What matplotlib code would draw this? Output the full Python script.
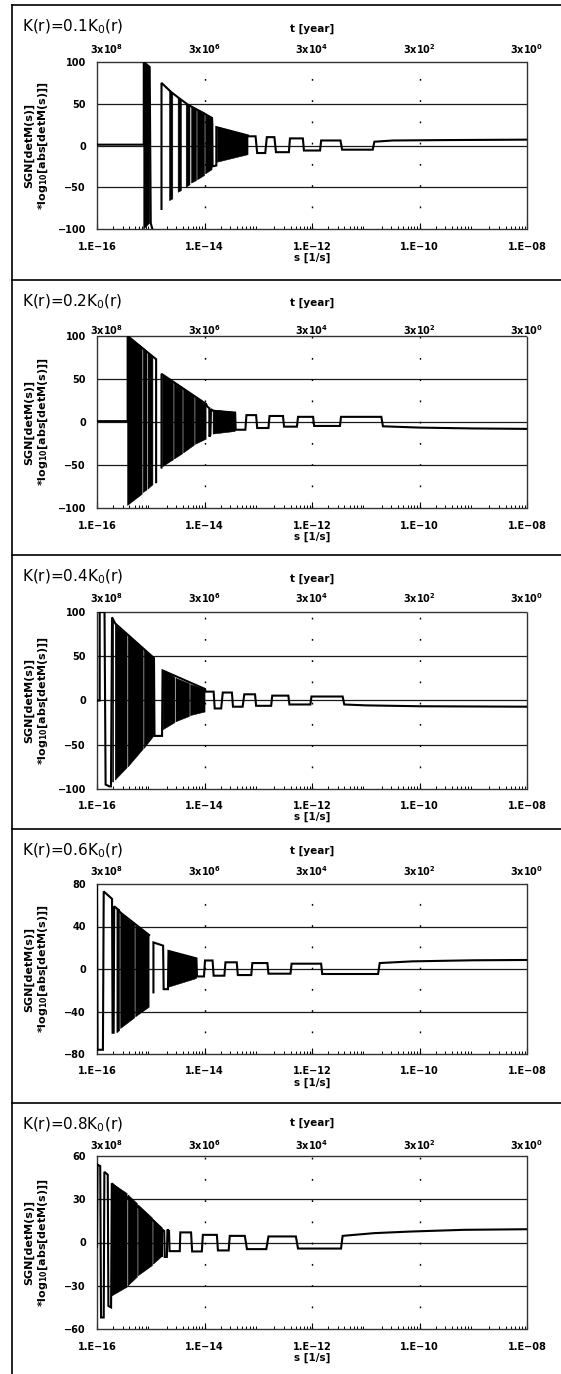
import numpy as np
import matplotlib.pyplot as plt
from matplotlib.lines import Line2D
from matplotlib.ticker import LogLocator, NullFormatter

# ---- chart values (x in log10(s [1/s]), y = SGN[detM]*log10|detM|) ----
TITLES = ['K(r)=0.1K$_0$(r)', 'K(r)=0.2K$_0$(r)', 'K(r)=0.4K$_0$(r)',
          'K(r)=0.6K$_0$(r)', 'K(r)=0.8K$_0$(r)']
Y_LIMITS = [100, 100, 100, 80, 60]
Y_STEPS = [50, 50, 50, 40, 30]
S_TICKS = [-16, -14, -12, -10, -8]
S_LABELS = ['1.E\u221216', '1.E\u221214', '1.E\u221212', '1.E\u221210', '1.E\u221208']
T_LABELS = ['3x10$^8$', '3x10$^6$', '3x10$^4$', '3x10$^2$', '3x10$^0$']
NAN = float('nan')

# panel 1: K=0.1K0
P1_X = [-16.0, -15.13, -15.13, -15.02, -15.00, -14.97, NAN,
        -14.80, -14.80, -14.62, -14.46, -14.31, -14.20, -14.08, -13.86,
        -13.855, -13.85, -13.78, -13.78, -13.19,
        -13.19, -13.05, -13.02, -12.87, -12.84, -12.70, -12.67, -12.43,
        -12.41, -12.17, -12.15, -11.85, -11.83, -11.47, -11.44, -10.87,
        -10.84, -10.50, -9.50, -8.0]
P1_Y = [1, 1, 100, 94, -93, -100, NAN,
        -76, 75, 64, 56, 49, 45, 41, 33,
        27, -25, -24, 22, 12,
        11, 11, -9, -9, 10, 10, -8, -8,
        8.5, 8.5, -6, -6, 6, 6, -5, -5,
        4.5, 6, 6.5, 7]
P1_BLOCKS = [(-15.13, -15.02, 100, 94, -100, -93),
             (-14.65, -14.59, 65, 63, -66, -64),
             (-14.49, -14.43, 57, 55, -56, -54),
             (-14.34, -14.27, 50, 48, -50, -47),
             (-14.24, -14.15, 47, 44, -45, -42),
             (-14.13, -14.00, 43, 39, -41, -36),
             (-13.98, -13.86, 38, 33, -34, -29),
             (-13.76, -13.19, 22, 12, -20, -11)]

# panel 2: K=0.2K0
P2_X = [-16.0, -15.43, -15.43, -14.96, -14.92, -14.90, -14.90, NAN,
        -14.80, -14.80, -13.97, -13.95, -13.91, -13.91, -13.89, -13.88,
        -13.84, -13.43, -13.42, -13.24, -13.22, -13.04, -13.02, -12.81,
        -12.79, -12.54, -12.52, -12.28, -12.26, -11.98, -11.96, -11.48,
        -11.46, -10.71, -10.68, -10.0, -9.0, -8.0]
P2_Y = [1, 1, 100, 76, 74, 73, -70, NAN,
        -53, 56, 21, 18, 16, -17, -15, 15,
        13, 11, -9, -9, 8, 8, -7, -7,
        7, 7, -5.4, -5.4, 6, 6, -4.6, -4.6,
        6, 6, -5, -6.5, -7.5, -8]
P2_BLOCKS = [(-15.43, -15.16, 100, 87, -97, -84),
             (-15.14, -15.07, 86, 82, -82, -79),
             (-15.05, -14.96, 81, 76, -78, -73),
             (-14.78, -14.58, 55, 47, -52, -44),
             (-14.56, -14.41, 46, 40, -43, -37),
             (-14.39, -14.19, 39, 30, -36, -27),
             (-14.17, -13.97, 29, 21, -26, -20),
             (-13.84, -13.43, 14, 11, -14, -11)]

# panel 3: K=0.4K0
P3_X = [-16.0, -15.95, -15.95, -15.86, -15.84, -15.77, -15.74, -15.72,
        -15.66, -14.94, -14.93, -14.79, -14.78, -13.99,
        -13.98, -13.83, -13.81, -13.69, -13.66, -13.49, -13.47, -13.29,
        -13.26, -13.06, -13.04, -12.76, -12.74, -12.44, -12.42, -12.03,
        -12.01, -11.43, -11.40, -11.0, -10.0, -8.0]
P3_Y = [0, 0, 100, 100, -95, -97, -97, 94,
        87, 48, -40, -40, 34, 13,
        10, 10, -9, -9, 9, 9, -7, -7,
        7, 7, -6, -6, 5.5, 5.5, -4.5, -4.5,
        4.5, 4.5, -4.5, -5.5, -6.5, -7]
P3_BLOCKS = [(-15.71, -15.69, 90, 89, -92, -92),
             (-15.66, -15.44, 86, 74, -90, -76),
             (-15.42, -15.14, 73, 58, -75, -55),
             (-15.12, -14.94, 57, 48, -54, -40),
             (-14.77, -14.55, 34, 26, -33, -25),
             (-14.53, -14.28, 25, 19, -24, -18),
             (-14.26, -13.99, 18, 13, -17, -13)]

# panel 4: K=0.6K0
P4_X = [-16.0, -15.99, -15.89, -15.875, -15.72, -15.71, -15.69, -15.68,
        -15.63, -15.56, -15.03, NAN,
        -14.95, -14.95, -14.77, -14.76, -14.68, -14.67, -14.15,
        -14.14, -14.01, -13.99, -13.85, -13.83, -13.63, -13.61, -13.40,
        -13.38, -13.13, -13.11, -12.83, -12.81, -12.40, -12.38, -11.83,
        -11.81, -10.77, -10.74, -10.13, -9.0, -8.0]
P4_Y = [78, -76, -76, 73, 66, -60, -60, 59,
        57, 53, 32, NAN,
        -22, 25, 22, -19, -19, 17, 10,
        -7, -7, 8, 8, -6.3, -6.3, 6.3, 6.3,
        -5.7, -5.7, 5.6, 5.6, -4.4, -4.4, 5, 5,
        -4.7, -4.7, 5.6, 7.2, 8.2, 8.5]
P4_BLOCKS = [(-15.63, -15.58, 57, 56, -60, -58),
             (-15.56, -15.30, 53, 43, -56, -46),
             (-15.28, -15.03, 42, 32, -45, -36),
             (-14.66, -14.15, 17, 10, -17, -9)]

# panel 5: K=0.8K0
P5_X = [-16.0, -15.99, -15.94, -15.925, -15.875, -15.863, -15.80, -15.788,
        -15.738, -15.725, -14.80, -14.80, -14.79, -14.75, -14.74, -14.70,
        -14.69, -14.66, -14.65, -14.46, -14.45, -14.25, -14.23, -14.05,
        -14.03, -13.77, -13.75, -13.55, -13.53, -13.25, -13.21, -12.85,
        -12.81, -12.30, -12.26, -11.46, -11.43, -10.84, -10.17, -9.17, -8.0]
P5_Y = [-3, 54, 53, -52, -52, 49, 47, -44,
        -45, 41, 10, -10, 9, 8, -10, -10,
        9, 8, -6, -6, 7, 7, -6.2, -6.2,
        5.3, 5.3, -5.5, -5.5, 4.6, 4.6, -4.6, -4.6,
        4.2, 4.2, -4.2, -4.2, 4.6, 6.5, 7.6, 8.8, 9.2]
P5_BLOCKS = [(-15.72, -15.44, 41, 34, -37, -31),
             (-15.42, -15.25, 33, 27, -30, -24),
             (-15.23, -14.97, 26, 17, -23, -16),
             (-14.95, -14.80, 16, 10, -15, -10)]

LINES_X = [P1_X, P2_X, P3_X, P4_X, P5_X]
LINES_Y = [P1_Y, P2_Y, P3_Y, P4_Y, P5_Y]
BLOCKS = [P1_BLOCKS, P2_BLOCKS, P3_BLOCKS, P4_BLOCKS, P5_BLOCKS]

# ---- layout (pixels of the 561x1374 picture) ----
W, H = 561, 1374
SEPS = [5, 280, 555, 829, 1103]
AX_TOP = [62, 336, 612, 884, 1156]
AX_BOT = [229, 508, 789, 1054, 1329]
AX_L, AX_R = 97, 527
TOP_LAB_OFF = [9, 4, 10, 9, 8]     # points above the frame
XLAB_OFF = [-21, -21, -20, -21, -21]
SMALL = dict(fontsize=7, fontweight='bold')

plt.rcParams['font.family'] = ['DejaVu Sans']
plt.rcParams['mathtext.fontset'] = 'dejavusans'
plt.rcParams['mathtext.default'] = 'regular'

fig = plt.figure(figsize=(W / 100, H / 100), dpi=100)

for i in range(5):
    ax = fig.add_axes([AX_L / W, 1 - AX_BOT[i] / H,
                       (AX_R - AX_L) / W, (AX_BOT[i] - AX_TOP[i]) / H])
    ax.set_xscale('log')
    lim, step = Y_LIMITS[i], Y_STEPS[i]
    ax.set_xlim(1e-16, 1e-8)
    ax.set_ylim(-lim, lim)

    # grid: solid horizontal, sparse dotted vertical
    for yv in range(-lim + step, lim, step):
        ax.axhline(yv, color='0.1', lw=0.9, zorder=1)
    for xv in S_TICKS[1:-1]:
        ax.axvline(10.0 ** xv, color='k', lw=1.0, ls=(0, (1.3, 14)), zorder=1)

    # dense oscillation blocks
    for x0, x1, t0, t1, b0, b1 in BLOCKS[i]:
        ax.fill([10 ** x0, 10 ** x1, 10 ** x1, 10 ** x0], [t0, t1, b1, b0],
                color='k', lw=0.4, zorder=3)
    ax.plot(10.0 ** np.array(LINES_X[i]), LINES_Y[i], color='k', lw=1.5,
            solid_joinstyle='miter', zorder=4)

    ax.set_xticks(10.0 ** np.array(S_TICKS))
    ax.set_xticklabels(S_LABELS)
    ax.xaxis.set_minor_locator(LogLocator(base=10, subs=range(2, 10), numticks=20))
    ax.xaxis.set_minor_formatter(NullFormatter())
    ax.set_yticks(range(-lim, lim + 1, step))
    ax.tick_params(axis='x', which='major', direction='in', length=4,
                   width=0.8, pad=9, labelsize=7)
    ax.tick_params(axis='x', which='minor', direction='in', length=2.5, width=0.7)
    ax.tick_params(axis='y', length=0, pad=8, labelsize=7)
    for lab in ax.get_xticklabels() + ax.get_yticklabels():
        lab.set_fontweight('bold')
    for sp in ax.spines.values():
        sp.set_linestyle((0, (1, 1)))
        sp.set_linewidth(1.0)
        sp.set_color('0.2')

    # top axis: time in years
    for j, (xv, lab) in enumerate(zip(S_TICKS, T_LABELS)):
        dx = 7 if j == 0 else 0
        ax.annotate(lab, xy=(10.0 ** xv, 1), xycoords=('data', 'axes fraction'),
                    xytext=(dx, TOP_LAB_OFF[i]), textcoords='offset points',
                    ha='center', va='center', **SMALL)
    ax.annotate('t [year]', xy=(0.5, 1), xycoords='axes fraction',
                xytext=(0, 24), textcoords='offset points',
                ha='center', va='center', fontsize=7.5, fontweight='bold')
    ax.annotate('s [1/s]', xy=(1e-12, 0), xycoords=('data', 'axes fraction'),
                xytext=(0, XLAB_OFF[i]), textcoords='offset points',
                ha='center', va='center', fontsize=7.5, fontweight='bold')
    ax.annotate('SGN[detM(s)]', xy=(0, 0.5), xycoords='axes fraction',
                xytext=(-49, 0), textcoords='offset points', rotation=90,
                ha='center', va='center', fontsize=8, fontweight='bold')
    ax.annotate('*log$_{10}$[abs[detM(s)]]', xy=(0, 0.5), xycoords='axes fraction',
                xytext=(-39, 0), textcoords='offset points', rotation=90,
                ha='center', va='center', fontsize=8, fontweight='bold')

    fig.text(22 / W, 1 - (SEPS[i] + 26) / H, TITLES[i], fontsize=11,
             ha='left', va='baseline')
    fig.add_artist(Line2D([12 / W, 1], [1 - SEPS[i] / H] * 2,
                          transform=fig.transFigure, color='k', lw=1.2))

fig.add_artist(Line2D([12 / W, 12 / W], [1 - SEPS[0] / H, 0],
                      transform=fig.transFigure, color='k', lw=1.2))

fig.savefig('out.png', dpi=100)
